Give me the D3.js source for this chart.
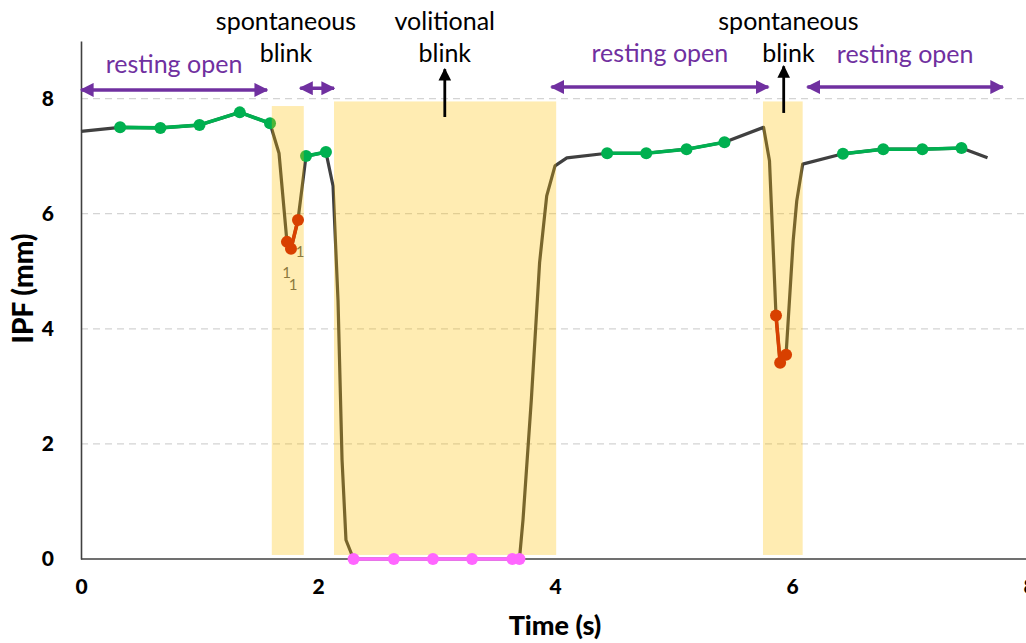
<!DOCTYPE html>
<html><head><meta charset="utf-8">
<script src="https://cdn.jsdelivr.net/npm/d3@7"></script>
<style>body{margin:0;background:#fff}svg{display:block}</style>
</head><body><div id="chart"></div>
<script>
// ---- data ----
const xTicks = [0, 2, 4, 6, 8];
const yTicks = [0, 2, 4, 6, 8];
// full IPF trace (time s, IPF mm)
const traceT = [0,0.33,0.67,1.00,1.34,1.595,1.671,1.738,1.772,1.831,1.899,2.067,2.127,2.169,2.203,2.236,2.30,2.64,2.97,3.30,3.64,3.70,3.73,3.80,3.87,3.93,4.00,4.10,4.44,4.77,5.11,5.43,5.76,5.81,5.865,5.90,5.95,6.01,6.04,6.09,6.43,6.77,7.10,7.43,7.65];
const traceV = [7.43,7.50,7.49,7.54,7.76,7.57,7.05,5.51,5.39,5.89,7.00,7.07,6.48,4.49,1.72,0.33,0,0,0,0,0,0,0.68,2.76,5.15,6.31,6.83,6.97,7.05,7.05,7.12,7.24,7.50,6.92,4.23,3.41,3.55,5.53,6.22,6.86,7.04,7.12,7.12,7.14,6.97];
// open (green) segments
const openSegs = [
  {t:[0.33,0.67,1.00,1.34,1.595], v:[7.50,7.49,7.54,7.76,7.57]},
  {t:[1.899,2.067], v:[7.00,7.07]},
  {t:[4.44,4.77,5.11,5.43], v:[7.05,7.05,7.12,7.24]},
  {t:[6.43,6.77,7.10,7.43], v:[7.04,7.12,7.12,7.14]}
];
// blink minimum (red) segments
const minSegs = [
  {t:[1.738,1.772,1.831], v:[5.51,5.39,5.89]},
  {t:[5.865,5.90,5.95], v:[4.23,3.41,3.55]}
];
// closed (magenta) segment
const closedT = [2.30,2.64,2.97,3.30,3.64,3.70];
const closedV = [0,0,0,0,0,0];
// shaded blink windows
const blinkStart = [1.61, 2.135, 5.755];
const blinkEnd   = [1.88, 4.01, 6.09];
const blinkTop   = [7.87, 7.95, 7.95];
const blinkBottom = 0.07;
// annotations
const spanLabels = ["resting open", "", "resting open", "resting open"];
const spanStart = [0, 1.85, 3.97, 6.13];
const spanEnd   = [1.57, 2.135, 5.80, 7.78];
const spanY     = [8.15, 8.18, 8.20, 8.20];
const spanLabelY = [8.45, 0, 8.64, 8.62];
const eventLines = [["spontaneous","blink"],["volitional","blink"],["spontaneous","blink"]];
const eventT = [1.73, 3.07, 5.97];
const upArrowT = [null, 3.07, 5.93];
const upArrowFrom = [null, 7.68, 7.75];
const upArrowTo = [null, 8.51, 8.56];
const smallLabels = [{t:1.848,v:5.25,s:"1"},{t:1.735,v:4.88,s:"1"},{t:1.79,v:4.68,s:"1"}];

// ---- layout ----
const W = 1026, H = 643;
const x = d3.scaleLinear().domain([0, 8]).range([81, 1029]);
const y = d3.scaleLinear().domain([0, 9]).range([559, 41]);
const svg = d3.select("#chart").append("svg").attr("width", W).attr("height", H);
const font = "Lato, 'Open Sans', sans-serif";

// gridlines
svg.append("g").selectAll("line").data(yTicks.filter(d => d > 0)).join("line")
  .attr("x1", x(0)).attr("x2", W).attr("y1", d => y(d)).attr("y2", d => y(d))
  .attr("stroke", "#d4d4d4").attr("stroke-width", 1.2).attr("stroke-dasharray", "7,5");

// axes
const xAxis = svg.append("g").attr("transform", `translate(0,${y(0)})`)
  .call(d3.axisBottom(x).tickValues(xTicks).tickSize(0).tickPadding(20).tickFormat(d3.format("d")));
const yAxis = svg.append("g").attr("transform", `translate(${x(0)},0)`)
  .call(d3.axisLeft(y).tickValues(yTicks).tickSize(0).tickPadding(27).tickFormat(d3.format("d")));
[xAxis, yAxis].forEach(g => {
  g.select(".domain").attr("stroke", "#404040").attr("stroke-width", 1.6);
  g.selectAll("text").attr("font-family", font).attr("font-weight", "900")
    .attr("font-size", 21).attr("fill", "#000");
});
xAxis.select(".domain").attr("transform", `translate(${x(0)},0)`).attr("d", `M0,0H${W - x(0)}`);

// axis titles
svg.append("text").attr("x", x(4)).attr("y", 635).attr("text-anchor", "middle")
  .attr("font-family", font).attr("font-weight", "900").attr("font-size", 27).text("Time (s)");
svg.append("text").attr("transform", `translate(23,${y(4.7)}) rotate(-90)`).attr("text-anchor", "middle")
  .attr("dy", "0.35em").attr("font-family", font).attr("font-weight", "900").attr("font-size", 28).text("IPF (mm)");

const line = d3.line().x(d => x(d[0])).y(d => y(d[1]));
const zip = (a, b) => a.map((d, i) => [d, b[i]]);

// small labels
svg.append("g").selectAll("text").data(smallLabels).join("text")
  .attr("x", d => x(d.t)).attr("y", d => y(d.v)).attr("text-anchor", "middle")
  .attr("font-family", font).attr("font-size", 15).attr("fill", "#595959").text(d => d.s);

// trace
svg.append("path").attr("d", line(zip(traceT, traceV))).attr("fill", "none")
  .attr("stroke", "#404040").attr("stroke-width", 3.2).attr("stroke-linejoin", "round");

function drawSeg(t, v, color, r) {
  const pts = zip(t, v);
  const g = svg.append("g");
  g.append("path").attr("d", line(pts)).attr("fill", "none").attr("stroke", color).attr("stroke-width", 3.6);
  g.selectAll("circle").data(pts).join("circle").attr("cx", d => x(d[0])).attr("cy", d => y(d[1]))
    .attr("r", r).attr("fill", color);
}
openSegs.forEach(s => drawSeg(s.t, s.v, "#00b050", 6));
minSegs.forEach(s => drawSeg(s.t, s.v, "#c80a00", 6));

// blink windows (translucent, on top)
svg.append("g").selectAll("rect").data(blinkStart).join("rect")
  .attr("x", (d) => x(d)).attr("width", (d, i) => x(blinkEnd[i]) - x(d))
  .attr("y", (d, i) => y(blinkTop[i])).attr("height", (d, i) => y(blinkBottom) - y(blinkTop[i]))
  .attr("fill", "#FFC000").attr("fill-opacity", 0.3);

drawSeg(closedT, closedV, "#ff66ff", 6);

// purple span arrows
const purple = "#7030a0";
const defs = svg.append("defs");
defs.append("marker").attr("id", "ph").attr("viewBox", "0 0 10 10").attr("refX", 9).attr("refY", 5)
  .attr("markerWidth", 4).attr("markerHeight", 4).attr("markerUnits", "strokeWidth").attr("orient", "auto-start-reverse")
  .append("path").attr("d", "M0,0L10,5L0,10z").attr("fill", purple);
defs.append("marker").attr("id", "bh").attr("viewBox", "0 0 10 10").attr("refX", 9).attr("refY", 5)
  .attr("markerWidth", 4.5).attr("markerHeight", 4.5).attr("markerUnits", "strokeWidth").attr("orient", "auto")
  .append("path").attr("d", "M0,0L10,5L0,10z").attr("fill", "#000");

const spans = svg.append("g");
spanStart.forEach((s, i) => {
  spans.append("line").attr("x1", x(s)).attr("x2", x(spanEnd[i])).attr("y1", y(spanY[i])).attr("y2", y(spanY[i]))
    .attr("stroke", purple).attr("stroke-width", 3.5)
    .attr("marker-start", "url(#ph)").attr("marker-end", "url(#ph)");
  if (spanLabels[i]) {
    spans.append("text").attr("x", x((s + spanEnd[i]) / 2)).attr("y", y(spanLabelY[i]))
      .attr("text-anchor", "middle").attr("font-family", font).attr("font-size", 25).attr("fill", purple)
      .text(spanLabels[i]);
  }
});

// event labels
const ev = svg.append("g");
eventLines.forEach((ls, i) => {
  ls.forEach((s, j) => {
    ev.append("text").attr("x", x(eventT[i])).attr("y", 30 + j * 32).attr("text-anchor", "middle")
      .attr("font-family", font).attr("font-size", 25).attr("fill", "#000").text(s);
  });
  if (upArrowT[i] !== null) {
    ev.append("line").attr("x1", x(upArrowT[i])).attr("x2", x(upArrowT[i]))
      .attr("y1", y(upArrowFrom[i])).attr("y2", y(upArrowTo[i]))
      .attr("stroke", "#000").attr("stroke-width", 2.8).attr("marker-end", "url(#bh)");
  }
});
</script></body></html>
